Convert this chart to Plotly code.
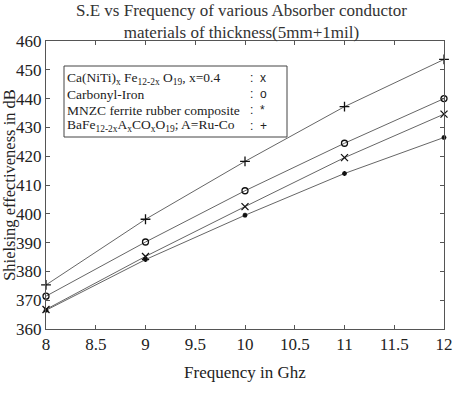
import plotly.graph_objects as go

freq = [8, 9, 10, 11, 12]
ca_niti = [366.8, 385.2, 402.5, 419.5, 434.6]
carbonyl = [371.4, 390.2, 408.0, 424.5, 440.0]
mnzc = [366.5, 384.1, 399.5, 414.0, 426.5]
bafe = [375.3, 398.1, 418.2, 437.2, 453.6]

legend_labels = [
    "Ca(NiTi)<sub>x</sub> Fe<sub>12-2x</sub> O<sub>19</sub>, x=0.4",
    "Carbonyl-Iron",
    "MNZC ferrite rubber composite",
    "BaFe<sub>12-2x</sub>A<sub>x</sub>CO<sub>x</sub>O<sub>19</sub>; A=Ru-Co",
]
legend_marks = [":  x", ":  o", ":  *", ":  +"]

FONT = "Liberation Serif, Times New Roman, serif"
L, R, T, B = 46, 10, 41, 65
W, H = 454, 394
pw, ph = W - L - R, H - T - B

def px(x):
    return (x - L) / pw

def py(y):
    return (H - B - y) / ph

fig = go.Figure()
series = [
    (ca_niti, "x-thin", 7),
    (carbonyl, "circle-open", 6),
    (mnzc, "asterisk", 4),
    (bafe, "cross-thin", 7),
]
for vals, sym, sz in series:
    fig.add_trace(go.Scatter(
        x=freq, y=vals, mode="lines+markers",
        line=dict(color="#666666", width=1),
        marker=dict(symbol=sym, size=sz, color="#111111",
                    line=dict(color="#111111", width=1.3)),
        showlegend=False, cliponaxis=False,
    ))

# legend box
fig.add_shape(type="rect", xref="paper", yref="paper",
              x0=px(64), x1=px(287), y0=py(137), y1=py(66),
              line=dict(color="#444444", width=1), fillcolor="white")
rows = [78, 94, 110, 126]
for lab, mk, yy in zip(legend_labels, legend_marks, rows):
    fig.add_annotation(xref="paper", yref="paper", x=px(65), y=py(yy),
                       text=lab, showarrow=False, xanchor="left", yanchor="middle",
                       font=dict(family=FONT, size=13.5, color="#222222"))
    fig.add_annotation(xref="paper", yref="paper", x=px(248), y=py(yy),
                       text=mk, showarrow=False, xanchor="left", yanchor="middle",
                       font=dict(family="Liberation Sans, Arial", size=12, color="#222222"))

# title as annotation
fig.add_annotation(xref="paper", yref="paper", x=px(241), y=py(21),
                   text="S.E vs Frequency of various Absorber conductor<br>materials of thickness(5mm+1mil)",
                   showarrow=False, xanchor="center", yanchor="middle",
                   font=dict(family=FONT, size=17, color="#333333"))

fig.update_layout(
    width=W, height=H,
    margin=dict(l=L, r=R, t=T, b=B, autoexpand=False),
    paper_bgcolor="white", plot_bgcolor="white",
    font=dict(family=FONT, size=17, color="#222222"),
)
fig.update_xaxes(
    range=[8, 12], tickvals=[8, 8.5, 9, 9.5, 10, 10.5, 11, 11.5, 12],
    ticktext=["8", "8.5", "9", "9.5", "10", "10.5", "11", "11.5", "12"],
    ticks="inside", ticklen=4, tickcolor="#555555", mirror="ticks",
    showline=True, linecolor="#555555", linewidth=1, showgrid=False, zeroline=False,
    tickfont=dict(family=FONT, size=17), automargin=False,
    title=dict(text="Frequency in Ghz", standoff=12, font=dict(family=FONT, size=17)),
)
fig.update_yaxes(
    range=[360, 460], tickvals=list(range(360, 461, 10)),
    ticks="inside", ticklen=4, tickcolor="#555555", mirror="ticks",
    showline=True, linecolor="#555555", linewidth=1, showgrid=False, zeroline=False,
    tickfont=dict(family=FONT, size=17), automargin=False,
    title=dict(text="Shielsing effectiveness in dB", standoff=0, font=dict(family=FONT, size=16.5)),
)

fig.write_html("out.html")
